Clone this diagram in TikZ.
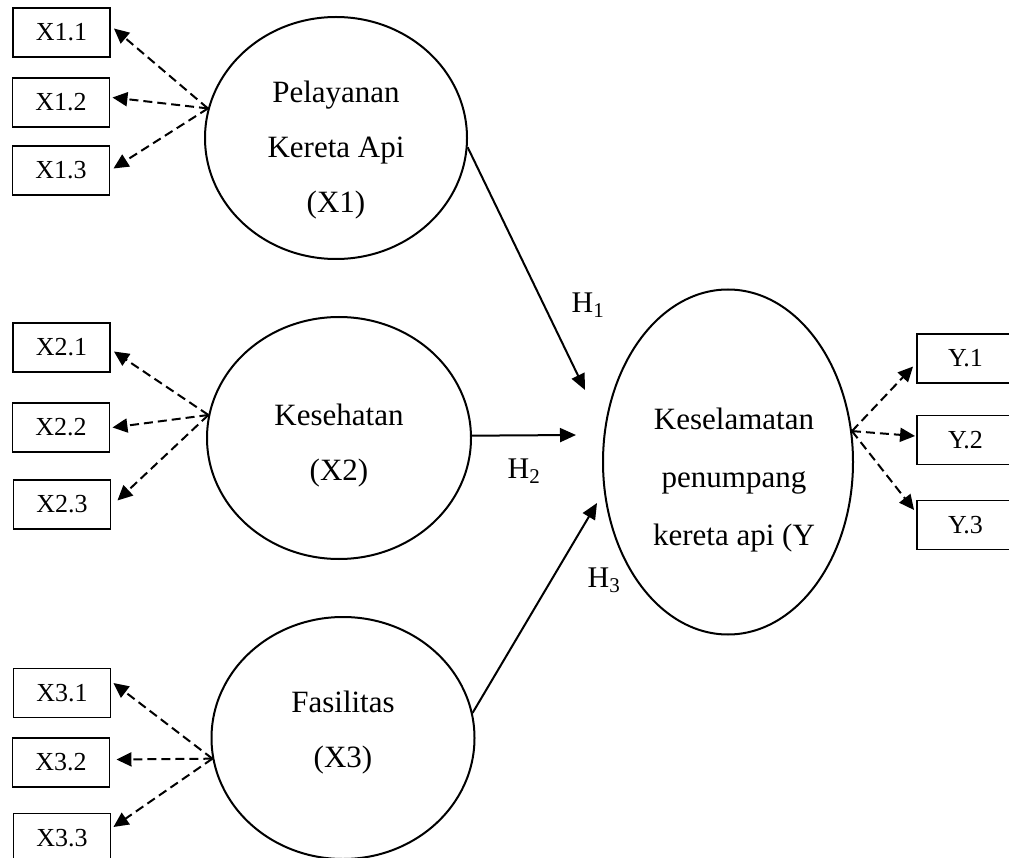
\documentclass[tikz,border=0pt]{standalone}
\usepackage{fontspec}
\setmainfont{Liberation Serif}
\usetikzlibrary{arrows.meta,shapes.geometric}

\begin{document}
\begin{tikzpicture}[x=1pt, y=-1pt,
  konstruk/.style={ellipse, draw, line width=2pt, minimum width=#1, minimum height=242pt},
  indik/.style={draw, line width=1.9pt, minimum width=97pt, minimum height=49pt, font=\fontsize{26}{30}\selectfont},
  teks/.style={align=center, font=\fontsize{31}{55}\selectfont},
  muat/.style={line width=2pt, dash pattern=on 9pt off 5pt, -{Triangle[length=15pt,width=14pt]}},
  jalur/.style={line width=2pt, -{Triangle[length=16pt,width=14pt]}},
  hip/.style={font=\fontsize{30}{36}\selectfont}
]
\useasboundingbox (0,0) rectangle (1009,858);

% Construct X1 -- Pelayanan Kereta Api
\node[konstruk=262pt] (layan) at (336,138) {};
\node[teks] (tlayan) at (336,150) {Pelayanan\\Kereta Api\\(X1)};
\node[indik] (x11) at (61.5,32.5) {X1.1};
\node[indik] (x12) at (61,102.5) {X1.2};
\node[indik] (x13) at (61,170.5) {X1.3};

% Construct X2 -- Kesehatan
\node[konstruk=264pt] (sehat) at (339,438) {};
\node[teks] (tsehat) at (339,446) {Kesehatan\\(X2)};
\node[indik] (x21) at (61.5,347.5) {X2.1};
\node[indik] (x22) at (61,427.5) {X2.2};
\node[indik] (x23) at (62,504.5) {X2.3};

% Construct X3 -- Fasilitas
\node[konstruk=263pt] (fasil) at (343,738) {};
\node[teks] (tfasil) at (343,733) {Fasilitas\\(X3)};
\node[indik] (x31) at (62,693) {X3.1};
\node[indik] (x32) at (61,762.5) {X3.2};
\node[indik] (x33) at (62,838) {X3.3};

% Construct Y -- Keselamatan penumpang
\node[konstruk=250pt, minimum height=345pt] (selamat) at (728,462) {};
\node[teks, font=\fontsize{31}{58}\selectfont] (tselamat) at (734,480) {Keselamatan\\penumpang\\kereta api (Y};
\node[indik] (y1) at (965.5,358.5) {Y.1};
\node[indik] (y2) at (965.5,440) {Y.2};
\node[indik] (y3) at (965.5,525) {Y.3};

% Indicator arrows (dashed)
\draw[muat] (layan.167) -- ([xshift=3pt,yshift=4pt]x11.east);
\draw[muat] (layan.167) -- ([xshift=2pt,yshift=5pt]x12.east);
\draw[muat] (layan.167) -- ([xshift=3pt,yshift=2pt]x13.east);
\draw[muat] (sehat.170) -- ([xshift=3pt,yshift=-4pt]x21.east);
\draw[muat] (sehat.170) -- ([xshift=2pt]x22.east);
\draw[muat] (sehat.170) -- ([xshift=6pt,yshift=4pt]x23.east);
\draw[muat] (fasil.189) -- ([xshift=2pt,yshift=10pt]x31.east);
\draw[muat] (fasil.189) -- ([xshift=6pt,yshift=3pt]x32.east);
\draw[muat] (fasil.189) -- ([xshift=2pt,yshift=11pt]x33.east);
\draw[muat] (selamat.14) -- ([xshift=-3pt,yshift=-8pt]y1.west);
\draw[muat] (selamat.14) -- ([xshift=-1pt,yshift=4pt]y2.west);
\draw[muat] (selamat.14) -- ([xshift=-2pt,yshift=15pt]y3.west);

% Hypothesis paths
\coordinate (ujung1) at (585,390);
\coordinate (ujung2) at (576,435);
\coordinate (ujung3) at (597,503);
\draw[jalur] (layan.-4) -- (ujung1);
\draw[jalur] (sehat.1) -- (ujung2);
\draw[jalur] (fasil.11) -- (ujung3);
\node[hip] (h1) at (588,305) {H\textsubscript{1}};
\node[hip] (h2) at (524,471) {H\textsubscript{2}};
\node[hip] (h3) at (604,580) {H\textsubscript{3}};

\end{tikzpicture}
\end{document}
